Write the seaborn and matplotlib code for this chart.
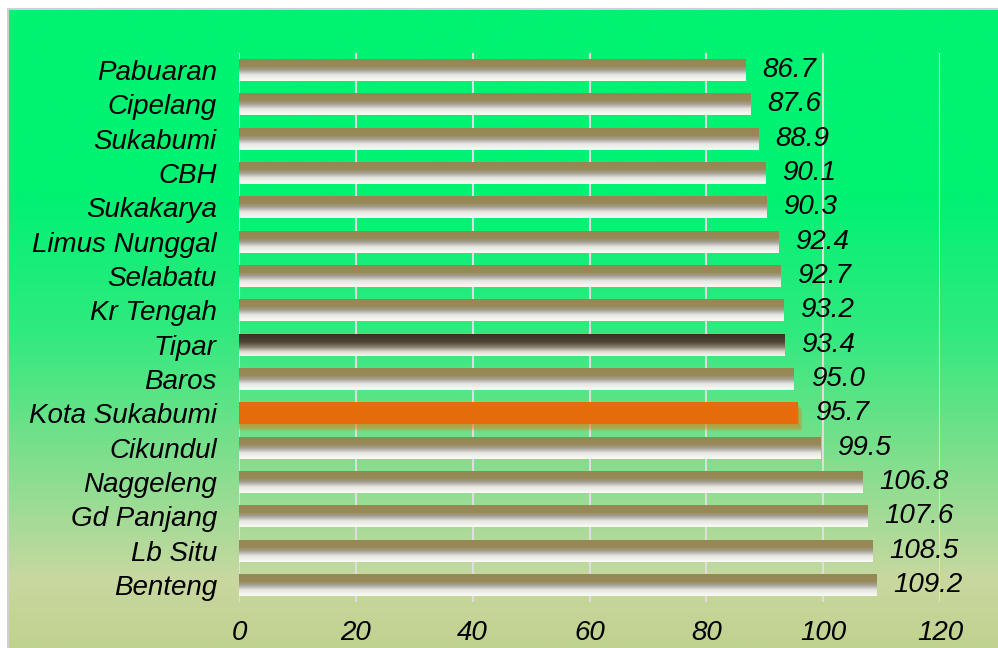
import numpy as np
import matplotlib
matplotlib.use("Agg")
import matplotlib.pyplot as plt
import seaborn as sns
from matplotlib.colors import LinearSegmentedColormap
from matplotlib.patches import Rectangle

# data
wilayah = ["Pabuaran", "Cipelang", "Sukabumi", "CBH", "Sukakarya", "Limus Nunggal",
           "Selabatu", "Kr Tengah", "Tipar", "Baros", "Kota Sukabumi", "Cikundul",
           "Naggeleng", "Gd Panjang", "Lb Situ", "Benteng"]
nilai = [86.7, 87.6, 88.9, 90.1, 90.3, 92.4, 92.7, 93.2, 93.4, 95.0, 95.7, 99.5,
         106.8, 107.6, 108.5, 109.2]
sorot_gelap = "Tipar"
sorot_kota = "Kota Sukabumi"
x_ticks = [0, 20, 40, 60, 80, 100, 120]

sns.set_style("white")
plt.rcParams['font.family'] = ['Liberation Sans', 'DejaVu Sans']
plt.rcParams['text.color'] = 'black'
plt.rcParams['xtick.color'] = 'black'
plt.rcParams['ytick.color'] = 'black'

fig = plt.figure(figsize=(9.98, 6.48), dpi=100)
fig.patch.set_facecolor("white")

# latar belakang gradasi
bg = fig.add_axes([8 / 998, 0, 990 / 998, 639 / 648], zorder=-5)
stops = [(0.0, "#00F272"), (186 / 639, "#00F272"), (321 / 639, "#30EA7E"),
         (441 / 639, "#7ADF8C"), (571 / 639, "#C8D8A0"), (1.0, "#C0D28F")]
cmap_bg = LinearSegmentedColormap.from_list("bg", stops)
bg.imshow(np.linspace(0, 1, 400).reshape(-1, 1), aspect="auto", cmap=cmap_bg,
          extent=(0, 1, 0, 1))
bg.set_axis_off()
fig.add_artist(Rectangle((8 / 998, -0.01), 1, 639 / 648 + 0.01, transform=fig.transFigure,
                         fill=False, edgecolor="#D0D0D0", linewidth=1.5, zorder=-4))

ax = fig.add_axes([239 / 998, 46 / 648, 701 / 998, 549 / 648])
ax.set_facecolor("none")

sns.barplot(x=nilai, y=wilayah, orient="h", color="#978A55", width=0.64,
            linewidth=0, edgecolor="none", ax=ax, zorder=3)

cm_biasa = LinearSegmentedColormap.from_list(
    "biasa", [(0, "#958853"), (0.33, "#978A57"), (0.52, "#A6A49C"),
              (0.72, "#E6E6E0"), (1.0, "#FBFBF6")])
cm_gelap = LinearSegmentedColormap.from_list(
    "gelap", [(0, "#3A3222"), (0.35, "#4A4232"), (0.6, "#8A8270"),
              (0.8, "#DCD8CC"), (1.0, "#F8F6EE")])
grad = np.linspace(0, 1, 64).reshape(-1, 1)

for nama, p in zip(wilayah, ax.patches):
    x0, y0, w, h = p.get_x(), p.get_y(), p.get_width(), p.get_height()
    if nama == sorot_kota:
        p.set_facecolor("#E46C0A")
        # bayangan lembut di bawah batang
        for k in range(1, 7):
            ax.add_patch(Rectangle((x0, y0 + k * 0.035), w + 0.12 * k, h,
                                   facecolor="#E07A18", alpha=0.16, edgecolor="none",
                                   zorder=2.5))
        continue
    cm = cm_gelap if nama == sorot_gelap else cm_biasa
    p.set_facecolor("none")
    ax.imshow(grad, cmap=cm, aspect="auto", extent=(x0, x0 + w, y0 + h, y0),
              zorder=3, interpolation="bilinear")

ax.bar_label(ax.containers[0], fmt="%.1f", padding=12, fontsize=20,
             fontstyle="italic", color="black")

ax.set_xlim(0, 120)
ax.set_ylim(len(wilayah) - 0.5, -0.5)
ax.set_xticks(x_ticks)
ax.set_xticklabels([str(t) for t in x_ticks], fontsize=20, fontstyle="italic")
ax.set_yticks(range(len(wilayah)))
ax.set_yticklabels(wilayah, fontsize=20, fontstyle="italic")
ax.tick_params(axis="x", length=0, pad=13)
ax.tick_params(axis="y", length=0, pad=16)
ax.xaxis.grid(True, color="#DDDDDD", linewidth=1.5, zorder=0)
ax.set_axisbelow(True)
ax.set_xlabel("")
ax.set_ylabel("")
for s in ax.spines.values():
    s.set_visible(False)

fig.savefig("out.png", dpi=100)
